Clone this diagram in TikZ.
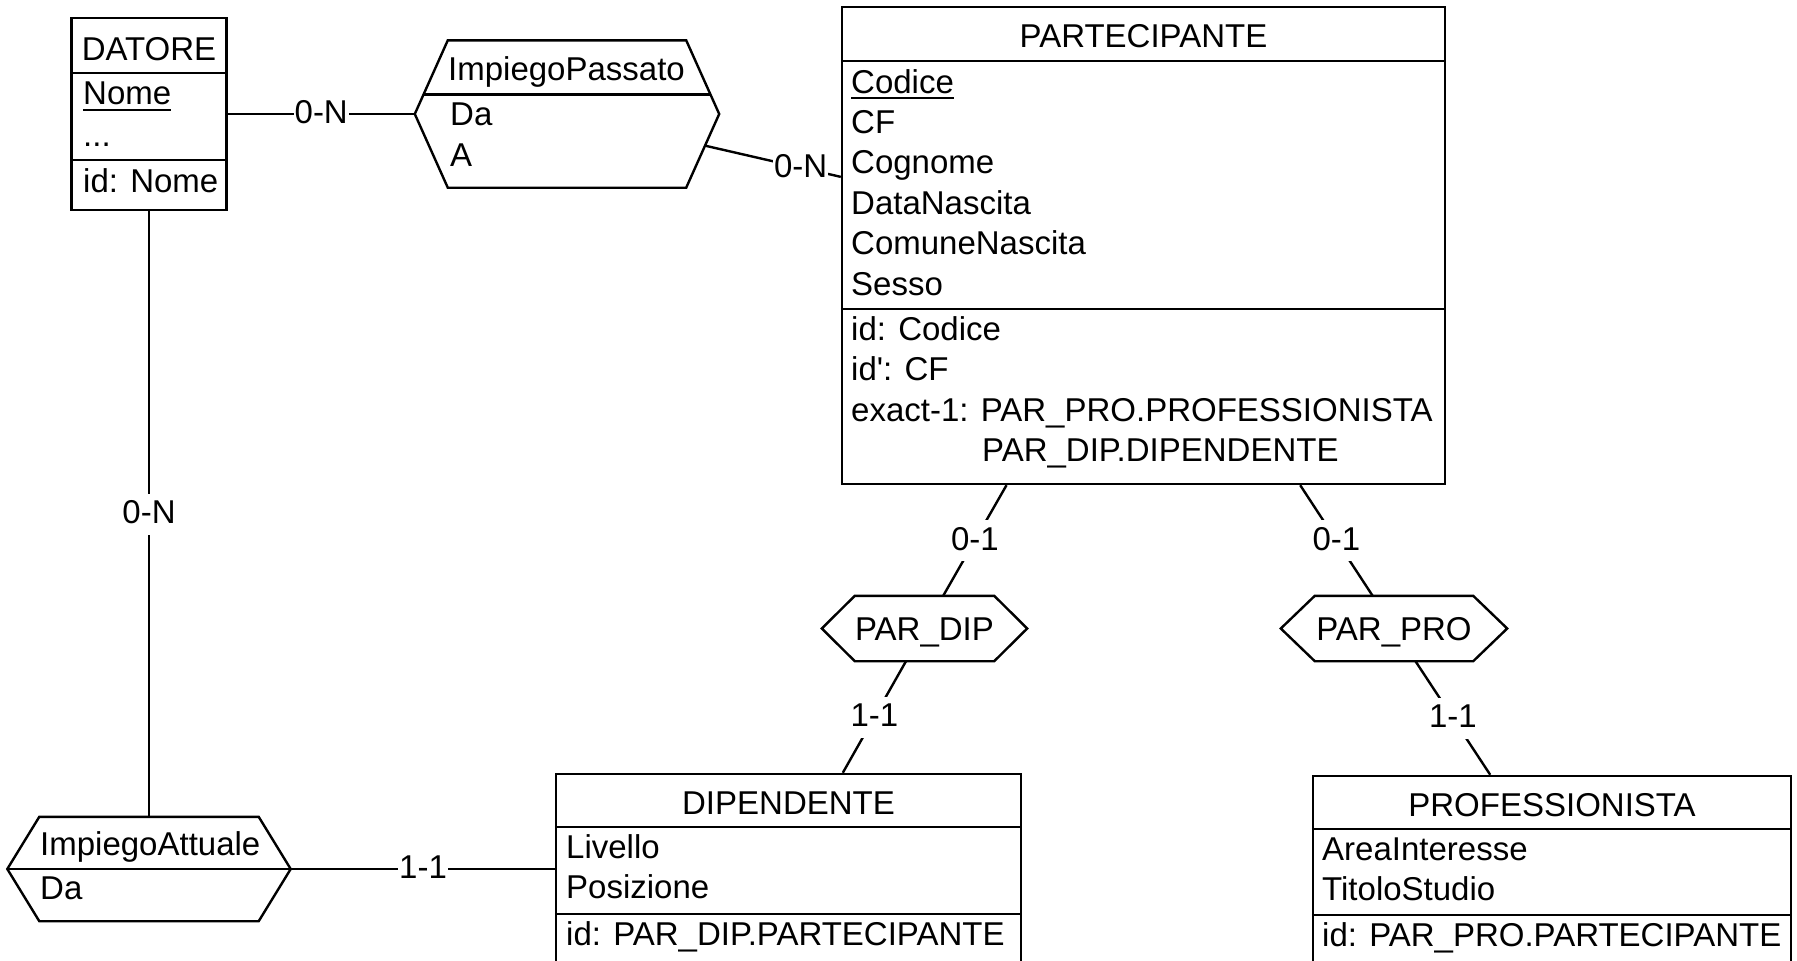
\documentclass[tikz,border=0pt]{standalone}
\usepackage{fontspec}
\setmainfont{Liberation Sans}
\usetikzlibrary{calc, backgrounds}
\newcommand{\erfont}{\fontsize{33}{40}\selectfont}
\tikzset{
  ent/.style={
    rectangle, draw, line width=2.4pt, inner sep=0pt,
  },
  relbox/.style={
    rectangle, inner sep=0pt,
  },
  hexa/.style={
    draw, fill=white, line width=2.4pt,
  },
  divline/.style={
    line width=2.4pt,
  },
  ttl/.style={
    anchor=base, inner sep=0pt, font=\erfont,
  },
  attr/.style={
    anchor=base west, inner sep=0pt, font=\erfont,
  },
  link/.style={
    line width=2.4pt,
  },
  card/.style={
    fill=white, inner xsep=1pt, inner ysep=0pt,
    text height=30pt, text depth=11pt, font=\erfont,
  },
}

\begin{document}
\begin{tikzpicture}[x=1pt,y=-1pt]
  \useasboundingbox (0,0) rectangle (1797,961);
  \clip (0,0) rectangle (1797,961);

  % entities
  \node[ent, minimum width=155pt, minimum height=192pt] (dat) at (149,114)      {};
  \node[ent, minimum width=603pt, minimum height=477pt] (par) at (1143.5,245.5) {};
  \node[ent, minimum width=465pt, minimum height=190pt] (dip) at (788.5,869)    {};
  \node[ent, minimum width=478pt, minimum height=186pt] (pro) at (1552,869)     {};

  % relationships
  \node[relbox, minimum width=238pt, minimum height=147pt] (ip) at (567,114)    {};
  \node[relbox, minimum width=219pt, minimum height=104pt] (ia) at (149,869)    {};
  \node[relbox, minimum width=139pt, minimum height=65pt]  (pd) at (924.5,628.5) {};
  \node[relbox, minimum width=158pt, minimum height=65pt]  (pp) at (1394,628.5)  {};

  \draw[hexa] (ip.north west) -- (ip.north east) -- ([xshift=33pt]ip.east)
    -- (ip.south east) -- (ip.south west) -- ([xshift=-33pt]ip.west) -- cycle;
  \draw[hexa] (ia.north west) -- (ia.north east) -- ([xshift=32pt]ia.east)
    -- (ia.south east) -- (ia.south west) -- ([xshift=-32pt]ia.west) -- cycle;
  \draw[hexa] (pd.north west) -- (pd.north east) -- ([xshift=33pt]pd.east)
    -- (pd.south east) -- (pd.south west) -- ([xshift=-33pt]pd.west) -- cycle;
  \draw[hexa] (pp.north west) -- (pp.north east) -- ([xshift=34pt]pp.east)
    -- (pp.south east) -- (pp.south west) -- ([xshift=-34pt]pp.west) -- cycle;

  % DATORE
  \draw[divline] (dat.west |- 0,73) -- (dat.east |- 0,73);
  \draw[divline] (dat.west |- 0,160) -- (dat.east |- 0,160);
  \node[ttl]  (datT) at (149,60)  {DATORE};
  \node[attr] (datK) at (83,104)  {Nome};
  \draw[divline] ([yshift=-6pt]datK.base west) -- ([yshift=-6pt]datK.base east);
  \node[attr] (datA) at (83,146)  {...};
  \node[attr] (datI) at (83,192)  {id: Nome};

  % PARTECIPANTE
  \draw[divline] (par.west |- 0,61)  -- (par.east |- 0,61);
  \draw[divline] (par.west |- 0,309) -- (par.east |- 0,309);
  \node[ttl]  (parT) at (1143.5,47) {PARTECIPANTE};
  \node[attr] (parK) at (851,93)    {Codice};
  \draw[divline] ([yshift=-5pt]parK.base west) -- ([yshift=-5pt]parK.base east);
  \foreach \a [count=\i] in {CF,Cognome,DataNascita,ComuneNascita,Sesso}
    \node[attr] (parA\i) at (851,{93+40.4*\i}) {\a};
  \node[attr] (parI1) at (851,340)   {id: Codice};
  \node[attr] (parI2) at (851,380.5) {id\textquotesingle: CF};
  \node[attr] (parI3) at (851,421)   {exact-1: PAR\_PRO.PROFESSIONISTA};
  \node[attr] (parI4) at (982,461.5) {PAR\_DIP.DIPENDENTE};

  % DIPENDENTE
  \draw[divline] (dip.west |- 0,827) -- (dip.east |- 0,827);
  \draw[divline] (dip.west |- 0,914) -- (dip.east |- 0,914);
  \node[ttl]  (dipT)  at (788.5,814) {DIPENDENTE};
  \node[attr] (dipA1) at (566,858)   {Livello};
  \node[attr] (dipA2) at (566,898.5) {Posizione};
  \node[attr] (dipI1) at (566,945)   {id: PAR\_DIP.PARTECIPANTE};

  % PROFESSIONISTA
  \draw[divline] (pro.west |- 0,829) -- (pro.east |- 0,829);
  \draw[divline] (pro.west |- 0,915) -- (pro.east |- 0,915);
  \node[ttl]  (proT)  at (1552,816)   {PROFESSIONISTA};
  \node[attr] (proA1) at (1322,860)   {AreaInteresse};
  \node[attr] (proA2) at (1322,900.5) {TitoloStudio};
  \node[attr] (proI1) at (1322,946)   {id: PAR\_PRO.PARTECIPANTE};

  % relationship texts
  \draw[divline] ($([xshift=-33pt]ip.west)!0.265!(ip.north west)$)
    -- ($([xshift=33pt]ip.east)!0.265!(ip.north east)$);
  \node[attr] (ipT)  at (448,80)  {ImpiegoPassato};
  \node[attr] (ipA1) at (450,125) {Da};
  \node[attr] (ipA2) at (450,166) {A};
  \draw[divline] ([xshift=-32pt]ia.west) -- ([xshift=32pt]ia.east);
  \node[attr] (iaT)  at (40,855)  {ImpiegoAttuale};
  \node[attr] (iaA1) at (40,899)  {Da};
  \node[ttl]  (pdT)  at (924.5,640) {PAR\_DIP};
  \node[ttl]  (ppT)  at (1394,640)  {PAR\_PRO};

  % connectors
  \begin{scope}[on background layer]
    \draw[link] (dat) -- node[card, pos=0.425] (c1) {0-N} (ip);
    \draw[link] (ip)  -- node[card, pos=0.74]  (c2) {0-N} (par);
    \draw[link] (dat) -- node[card]            (c3) {0-N} (ia);
    \draw[link] (ia)  -- node[card, pos=0.555] (c4) {1-1} (dip);
    \draw[link] (par) -- node[card]            (c5) {0-1} (pd);
    \draw[link] (pd)  -- node[card]            (c6) {1-1} (dip);
    \draw[link] (par) -- node[card]            (c7) {0-1} (pp);
    \draw[link] (pp)  -- node[card]            (c8) {1-1} (pro);
  \end{scope}
\end{tikzpicture}
\end{document}
